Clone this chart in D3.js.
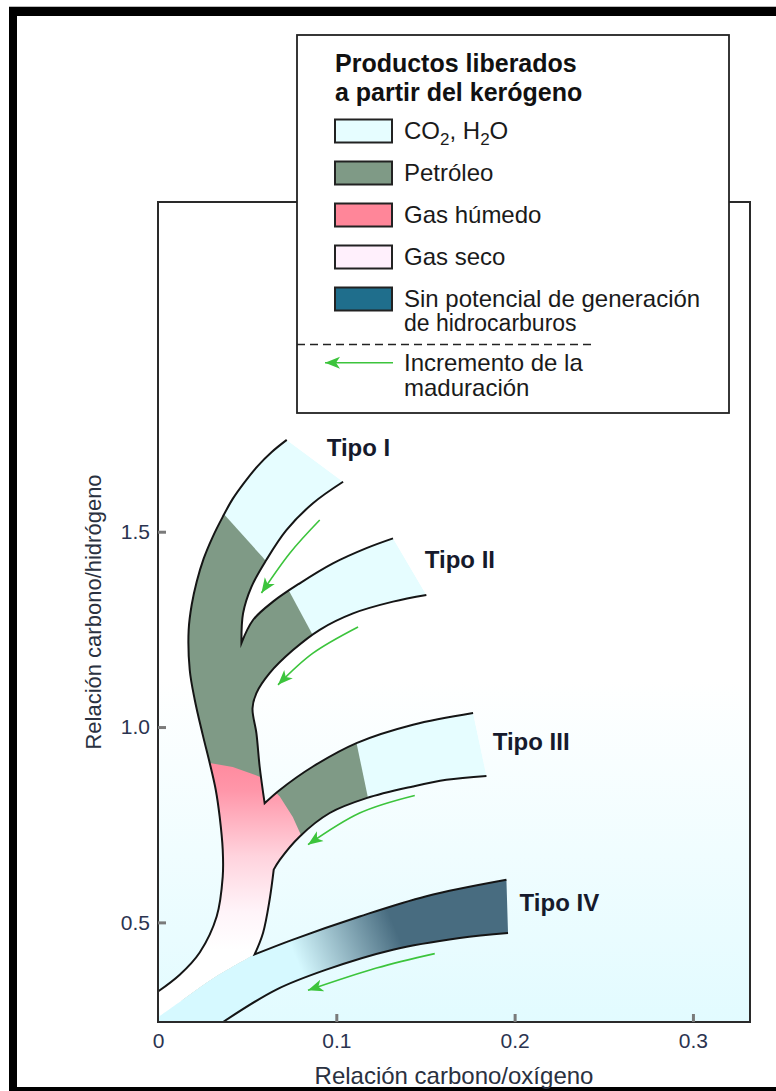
<!DOCTYPE html>
<html>
<head>
<meta charset="utf-8">
<script src="https://cdn.jsdelivr.net/npm/d3@7"></script>
<style>
  body { margin: 0; background: #fff; }
  text { font-family: "Liberation Sans", Arial, sans-serif; }
</style>
</head>
<body>
<script>
// axis extents and ticks (carbon/oxygen vs carbon/hydrogen)
const xDomain = [0, 0.332];
const yDomain = [0.245, 2.344];
const xTicks = [0, 0.1, 0.2, 0.3];
const yTicks = [0.5, 1.0, 1.5];

// band boundaries, [C/O, C/H]
const outerLeft = [[0.0722,1.735],[0.0638,1.704],[0.0559,1.668],[0.0486,1.627],[0.0419,1.584],[0.0363,1.538],
  [0.0307,1.487],[0.0256,1.431],[0.0217,1.372],[0.0189,1.313],[0.0172,1.249],
  [0.0178,1.146],[0.0206,1.070],[0.0251,0.980],[0.0290,0.908],[0.0324,0.839],[0.0346,0.770],[0.0363,0.686],
  [0.0363,0.617],[0.0329,0.515],[0.0234,0.423],[0.0122,0.366],[0.0000,0.323]];
const typeIInner = [[0.1038,1.628],[0.0869,1.573],[0.0720,1.504],[0.0608,1.428],[0.0524,1.359],[0.0477,1.291],[0.0468,1.215]];
const typeIIUpper = [[0.0468,1.215],[0.0533,1.274],[0.0645,1.321],[0.0795,1.368],[0.0981,1.419],[0.1169,1.458],[0.1318,1.483]];
const typeIILower = [[0.1505,1.338],[0.1318,1.321],[0.1094,1.291],[0.0907,1.249],[0.0757,1.197],[0.0626,1.138],
  [0.0552,1.087],[0.0530,1.048],[0.0552,0.984],[0.0570,0.899],[0.0598,0.805]];
const typeIIIUpper = [[0.0598,0.805],[0.0683,0.839],[0.0869,0.899],[0.1113,0.959],[0.1430,1.006],[0.1767,1.036]];
const typeIIILower = [[0.1842,0.875],[0.1617,0.865],[0.1430,0.848],[0.1169,0.818],[0.0963,0.780],[0.0795,0.720],[0.0683,0.660],[0.0649,0.635]];
const trunkLow = [[0.0649,0.635],[0.0626,0.558],[0.0589,0.473],[0.0542,0.418]];
const typeIVUpper = [[0.0542,0.418],[0.0757,0.456],[0.1131,0.515],[0.1505,0.567],[0.1954,0.609]];
const typeIVLower = [[0.1963,0.473],[0.1692,0.460],[0.1318,0.430],[0.0944,0.379],[0.0664,0.328],[0.0365,0.245]];
const tailUpper = [[0.0010,0.260],[0.0140,0.302],[0.0328,0.362],[0.0542,0.418]];

// product zones (clipped to the bands)
const oilZone = [[-0.01,1.600],[0.0310,1.575],[0.0374,1.543],[0.0586,1.435],[0.0650,1.400],[0.0738,1.346],
  [0.0867,1.236],[0.0900,1.205],[0.1113,0.960],[0.1176,0.822],[0.1195,0.780],[0.1200,0.300],[-0.01,0.300]];
const wetGasZone = [[-0.01,0.920],[0.0290,0.908],[0.0419,0.898],[0.0570,0.873],[0.0683,0.822],[0.0756,0.770],
  [0.0806,0.719],[0.0850,0.690],[0.0850,0.200],[-0.01,0.200]];

// maturation arrows
const arrows = [
  [[0.0907,1.530],[0.0739,1.445],[0.0580,1.343]],
  [[0.1122,1.256],[0.0869,1.189],[0.0673,1.108]],
  [[0.1440,0.825],[0.1131,0.780],[0.0841,0.699]],
  [[0.1552,0.420],[0.1225,0.383],[0.0841,0.326]]
];

const typeLabels = ["Tipo I", "Tipo II", "Tipo III", "Tipo IV"];
const typeLabelAt = [[0.0946,1.694],[0.1496,1.407],[0.1877,0.942],[0.2028,0.530]];

const legendTitle = ["Productos liberados", "a partir del kerógeno"];
const legendLabels = [["CO_2, H_2O"], ["Petróleo"], ["Gas húmedo"], ["Gas seco"], ["Sin potencial de generación", "de hidrocarburos"]];
const legendColors = ["#e6fdff", "#7f9a86", "#ff8699", "#fff0fc", "#1f6e8c"];
const arrowLabel = ["Incremento de la", "maduración"];

const xTitle = "Relación carbono/oxígeno";
const yTitle = "Relación carbono/hidrógeno";

const plot = {left: 158, top: 202, right: 750, bottom: 1022};
const green = "#3cc43c";

const svg = d3.select("body").append("svg")
    .attr("width", 776)
    .attr("height", 1091);

const x = d3.scaleLinear().domain(xDomain).range([plot.left, plot.right]);
const y = d3.scaleLinear().domain(yDomain).range([plot.bottom, plot.top]);

const line = d3.line().x(d => x(d[0])).y(d => y(d[1])).curve(d3.curveCatmullRom.alpha(0.5));
const poly = d3.line().x(d => x(d[0])).y(d => y(d[1]));
const rev = a => a.slice().reverse();

// joins curve pieces into one path, keeping sharp corners where they meet
function joinPath(segs, close) {
    let d = "";
    segs.forEach((s, i) => {
        const p = line(s);
        if (i === 0) { d = p; return; }
        const prev = segs[i - 1][segs[i - 1].length - 1];
        if (prev[0] === s[0][0] && prev[1] === s[0][1]) d += p.replace(/^M[^A-Za-z]*/, "");
        else d += "L" + p.slice(1);
    });
    return close ? d + "Z" : d;
}

const defs = svg.append("defs");

const bg = defs.append("linearGradient").attr("id", "bgGrad")
    .attr("gradientUnits", "userSpaceOnUse")
    .attr("x1", 0).attr("x2", 0).attr("y1", 680).attr("y2", plot.bottom);
bg.append("stop").attr("offset", 0).attr("stop-color", "#ffffff");
bg.append("stop").attr("offset", 1).attr("stop-color", "#e2fbff");

const pink = defs.append("linearGradient").attr("id", "pinkGrad")
    .attr("gradientUnits", "userSpaceOnUse")
    .attr("x1", 0).attr("x2", 0).attr("y1", y(0.91)).attr("y2", y(0.43));
[[0, "#ff8a9e"], [0.15, "#ff96a9"], [0.5, "#ffd3dd"], [0.8, "#fff4f9"], [1, "#ffffff"]].forEach(s =>
    pink.append("stop").attr("offset", s[0]).attr("stop-color", s[1]));

const dark = defs.append("linearGradient").attr("id", "ivGrad")
    .attr("gradientUnits", "userSpaceOnUse")
    .attr("x1", 300).attr("y1", 968).attr("x2", 395).attr("y2", 928);
dark.append("stop").attr("offset", 0).attr("stop-color", "#d6f9ff");
dark.append("stop").attr("offset", 1).attr("stop-color", "#486c80");

defs.append("marker").attr("id", "head")
    .attr("markerUnits", "userSpaceOnUse")
    .attr("viewBox", "0 -7 16 14")
    .attr("markerWidth", 16).attr("markerHeight", 14)
    .attr("refX", 15).attr("refY", 0)
    .attr("orient", "auto")
  .append("path")
    .attr("d", "M15,0 L0,-6 L4,0 L0,6 Z")
    .attr("fill", green);

const treePath = joinPath([outerLeft, tailUpper, rev(trunkLow), rev(typeIIILower), rev(typeIIIUpper),
    rev(typeIILower), rev(typeIIUpper), rev(typeIInner)], true);

defs.append("clipPath").attr("id", "treeClip").append("path").attr("d", treePath);

// outer black frame of the figure
svg.append("rect").attr("x", 9).attr("y", 6).attr("width", 767).attr("height", 1).attr("fill", "#bbb");
svg.append("rect").attr("x", 9).attr("y", 7).attr("width", 767).attr("height", 9).attr("fill", "#000");
svg.append("rect").attr("x", 9).attr("y", 7).attr("width", 8).attr("height", 1084).attr("fill", "#000");
svg.append("rect").attr("x", 9).attr("y", 1087).attr("width", 767).attr("height", 4).attr("fill", "#000");

// plot background
svg.append("rect")
    .attr("x", plot.left).attr("y", plot.top)
    .attr("width", plot.right - plot.left).attr("height", plot.bottom - plot.top)
    .attr("fill", "url(#bgGrad)");

// bands
const tree = svg.append("g").attr("clip-path", "url(#treeClip)");
tree.append("path").attr("d", treePath).attr("fill", "#e6fdff");
tree.append("path").attr("d", poly(oilZone) + "Z").attr("fill", "#7f9a86");
tree.append("path").attr("d", poly(wetGasZone) + "Z").attr("fill", "url(#pinkGrad)");

svg.append("path")
    .attr("d", joinPath([tailUpper, typeIVUpper, typeIVLower, [typeIVLower[typeIVLower.length - 1], [xDomain[0], yDomain[0]]]], true))
    .attr("fill", "url(#ivGrad)");

const edges = [[outerLeft], [typeIInner, typeIIUpper], [typeIILower, typeIIIUpper],
    [typeIIILower, trunkLow, typeIVUpper], [typeIVLower]];
svg.append("g").selectAll("path")
    .data(edges)
    .join("path")
    .attr("d", d => joinPath(d, false))
    .attr("fill", "none")
    .attr("stroke", "#151515")
    .attr("stroke-width", 2)
    .attr("stroke-linejoin", "miter")
    .attr("stroke-miterlimit", 12);

// maturation arrows
svg.append("g").selectAll("path")
    .data(arrows)
    .join("path")
    .attr("d", d => d3.line().x(p => x(p[0])).y(p => y(p[1])).curve(d3.curveNatural)(d))
    .attr("fill", "none")
    .attr("stroke", green)
    .attr("stroke-width", 1.6)
    .attr("marker-end", "url(#head)");

// type labels
svg.append("g").selectAll("text")
    .data(typeLabels)
    .join("text")
    .attr("x", (d, i) => x(typeLabelAt[i][0]))
    .attr("y", (d, i) => y(typeLabelAt[i][1]))
    .attr("font-size", 24)
    .attr("font-weight", "bold")
    .attr("fill", "#161a2c")
    .text(d => d);

// frame
svg.append("rect")
    .attr("x", plot.left).attr("y", plot.top)
    .attr("width", plot.right - plot.left).attr("height", plot.bottom - plot.top)
    .attr("fill", "none").attr("stroke", "#2a2a2a").attr("stroke-width", 2);

// axes
const fmt = d => d === 0 ? "0" : d3.format(".1f")(d);
const xAxis = svg.append("g")
    .attr("transform", `translate(0,${plot.bottom})`)
    .call(d3.axisBottom(x).tickValues(xTicks).tickSize(-8).tickPadding(11).tickFormat(fmt));
const yAxis = svg.append("g")
    .attr("transform", `translate(${plot.left},0)`)
    .call(d3.axisLeft(y).tickValues(yTicks).tickSize(-8).tickPadding(8).tickFormat(fmt));
[xAxis, yAxis].forEach(a => {
    a.select(".domain").remove();
    a.attr("font-family", null).attr("font-size", 21);
    a.selectAll(".tick line").attr("stroke", "#7a7a7a").attr("stroke-width", 3);
    a.selectAll(".tick text").attr("fill", "#2b3450");
});
xAxis.selectAll(".tick").filter(d => d === 0).select("line").remove();

svg.append("text")
    .attr("x", (plot.left + plot.right) / 2)
    .attr("y", 1084)
    .attr("text-anchor", "middle")
    .attr("font-size", 24)
    .attr("fill", "#2a3140")
    .text(xTitle);

svg.append("text")
    .attr("transform", `translate(101,${(plot.top + plot.bottom) / 2}) rotate(-90)`)
    .attr("text-anchor", "middle")
    .attr("font-size", 22)
    .attr("fill", "#2a3140")
    .text(yTitle);

// legend
const lg = svg.append("g");
lg.append("rect")
    .attr("x", 297).attr("y", 35).attr("width", 432).attr("height", 378)
    .attr("fill", "#fff").attr("stroke", "#222").attr("stroke-width", 1.8);

lg.selectAll(".ttl")
    .data(legendTitle)
    .join("text")
    .attr("x", 335)
    .attr("y", (d, i) => 72 + i * 28.5)
    .attr("font-size", 25)
    .attr("font-weight", "bold")
    .attr("fill", "#111")
    .text(d => d);

const rowY = i => 119.5 + i * 42;
lg.selectAll(".sw")
    .data(legendColors)
    .join("rect")
    .attr("x", 335)
    .attr("y", (d, i) => rowY(i))
    .attr("width", 57).attr("height", 23)
    .attr("fill", d => d)
    .attr("stroke", "#222")
    .attr("stroke-width", 2);

legendLabels.forEach((lines, i) => {
    lines.forEach((ln, j) => {
        const t = lg.append("text")
            .attr("x", 404)
            .attr("y", rowY(i) + 19.5 + j * 23.5)
            .attr("font-size", j > 0 ? 23 : 24)
            .attr("fill", "#1a1a1a");
        // "_" marks a subscript digit
        let shift = 0;
        ln.split(/(_\d)/).forEach(part => {
            if (!part) return;
            if (part.startsWith("_")) {
                t.append("tspan").attr("dy", 6 - shift).attr("font-size", 17).text(part.slice(1));
                shift = 6;
            } else {
                t.append("tspan").attr("dy", -shift).text(part);
                shift = 0;
            }
        });
    });
});

lg.append("line")
    .attr("x1", 297).attr("x2", 595).attr("y1", 344.5).attr("y2", 344.5)
    .attr("stroke", "#222").attr("stroke-width", 1.5)
    .attr("stroke-dasharray", "8,5");

lg.append("line")
    .attr("x1", 393).attr("x2", 325).attr("y1", 362.7).attr("y2", 362.7)
    .attr("stroke", green).attr("stroke-width", 1.6)
    .attr("marker-end", "url(#head)");

lg.selectAll(".al")
    .data(arrowLabel)
    .join("text")
    .attr("x", 404)
    .attr("y", (d, i) => 370.5 + i * 25)
    .attr("font-size", 24)
    .attr("fill", "#1a1a1a")
    .text(d => d);
</script>
</body>
</html>
